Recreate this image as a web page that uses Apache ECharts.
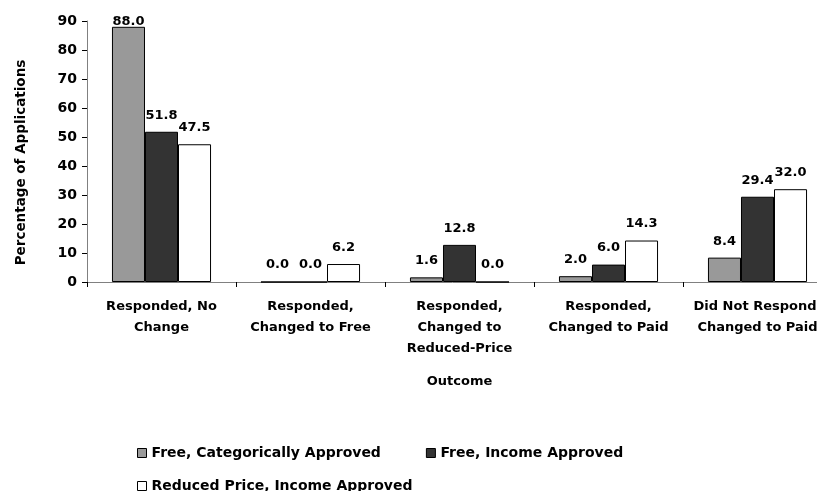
<!DOCTYPE html>
<html>
<head>
<meta charset="utf-8">
<script src="https://cdn.jsdelivr.net/npm/echarts@6/dist/echarts.min.js"></script>
<style>
  html, body { margin: 0; padding: 0; background: #fff; }
  #chart { width: 817px; height: 491px; }
</style>
</head>
<body>
<div id="chart"></div>
<script>
const categories = [
  'Responded, No\nChange',
  'Responded,\nChanged to Free',
  'Responded,\nChanged to\nReduced-Price',
  'Responded,\nChanged to Paid',
  'Did Not Respond,\nChanged to Paid'
]
const freeCategorical = [88.0, 0.0, 1.6, 2.0, 8.4]
const freeIncome      = [51.8, 0.0, 12.8, 6.0, 29.4]
const reducedIncome   = [47.5, 6.2, 0.0, 14.3, 32.0]
const yTicks = { min: 0, max: 90, interval: 10 }

const FONT = '"DejaVu Sans", "Liberation Sans", Arial, sans-serif'
const COLORS = {
  cat:     '#999999',
  income:  '#333333',
  reduced: '#ffffff',
  border:  '#000000',
  axis:    '#808080',
}

const chart = echarts.init(document.getElementById('chart'), null, { renderer: 'canvas' })

const labelStyle = {
  show: true,
  position: 'top',
  distance: 10,
  color: '#000',
  fontFamily: FONT,
  fontWeight: 'bold',
  fontSize: 13,
  formatter: p => p.value.toFixed(1)
}

// labels near the top get pulled down into the plot like the original
function withLabels(data) {
  return data.map(v => v > 85 ? { value: v, label: { distance: -1 } } : v)
}

function bar(name, data, color) {
  return {
    name, type: 'bar', data: withLabels(data),
    barGap: '0%',
    barCategoryGap: '33.5%',
    itemStyle: { color, borderColor: COLORS.border, borderWidth: 1 },
    label: labelStyle
  }
}

const legendText = { color: '#000', fontFamily: FONT, fontWeight: 'bold', fontSize: 14 }

chart.setOption({
  backgroundColor: '#fff',
  animation: false,
  grid: { left: 87, right: -15, top: 21, bottom: 209, outerBoundsMode: 'none' },
  legend: [
    {
      data: ['Free, Categorically Approved', 'Free, Income Approved'],
      left: 132, top: 441, orient: 'horizontal',
      itemWidth: 9, itemHeight: 9, itemGap: 45,
      icon: 'rect',
      itemStyle: { borderColor: '#000', borderWidth: 1 },
      textStyle: legendText
    },
    {
      data: ['Reduced Price, Income Approved'],
      left: 132, top: 474,
      itemWidth: 9, itemHeight: 9,
      icon: 'rect',
      itemStyle: { borderColor: '#000', borderWidth: 1 },
      textStyle: legendText
    }
  ],
  xAxis: {
    type: 'category',
    data: categories,
    name: 'Outcome',
    nameLocation: 'middle',
    nameGap: 93,
    nameTextStyle: { color: '#000', fontFamily: FONT, fontWeight: 'bold', fontSize: 13 },
    axisLine: { lineStyle: { color: COLORS.axis, width: 1 } },
    axisTick: { show: true, length: 5, inside: false, lineStyle: { color: '#000' } },
    axisLabel: {
      interval: 0, margin: 14,
      color: '#000', fontFamily: FONT, fontWeight: 'bold', fontSize: 13, lineHeight: 21
    }
  },
  yAxis: {
    type: 'value',
    min: yTicks.min, max: yTicks.max, interval: yTicks.interval,
    name: 'Percentage of Applications',
    nameLocation: 'middle',
    nameGap: 59,
    nameTextStyle: {
      color: '#000', fontFamily: FONT, fontWeight: 'bold', fontSize: 13.5,
      padding: [0, 22, 0, 0]
    },
    axisLine: { show: true, lineStyle: { color: COLORS.axis, width: 1 } },
    axisTick: { show: true, length: 5, lineStyle: { color: '#000' } },
    axisLabel: { margin: 10, color: '#000', fontFamily: FONT, fontWeight: 'bold', fontSize: 14 },
    splitLine: { show: false }
  },
  series: [
    bar('Free, Categorically Approved', freeCategorical, COLORS.cat),
    bar('Free, Income Approved', freeIncome, COLORS.income),
    bar('Reduced Price, Income Approved', reducedIncome, COLORS.reduced)
  ]
})
</script>
</body>
</html>
